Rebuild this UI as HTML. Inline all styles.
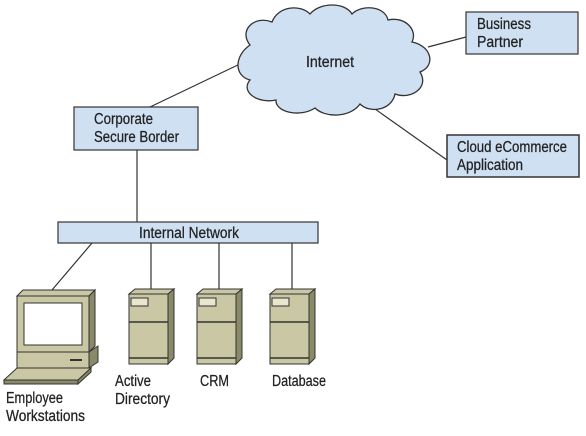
<!DOCTYPE html>
<html><head><style>
html,body{margin:0;padding:0;background:#fff;}
svg{display:block;}
text{font-family:"Liberation Sans",sans-serif;font-size:15.5px;fill:#222;stroke:#222;stroke-width:0.25px;}
</style></head><body>
<svg width="586" height="436" viewBox="0 0 586 436" xmlns="http://www.w3.org/2000/svg">
<g stroke="#333" stroke-width="1.2" fill="none">
<line x1="150" y1="107" x2="242" y2="63"/>
<line x1="428" y1="47" x2="466" y2="37"/>
<line x1="368" y1="104" x2="447" y2="160"/>
<line x1="137" y1="150" x2="137" y2="222"/>
<line x1="92" y1="243" x2="52" y2="290"/>
<line x1="151" y1="243" x2="151" y2="290"/>
<line x1="219" y1="243" x2="219" y2="290"/>
<line x1="292" y1="243" x2="292" y2="290"/>
</g>
<path d="M250,45 C238,30 255,15 272,22 C278,6 300,4 310,14 C320,2 345,2 352,14 C362,4 385,6 388,20 C405,16 418,30 412,42 C432,46 436,66 420,72 C430,88 410,100 395,94 C392,110 370,114 360,104 C350,118 325,118 315,108 C300,118 275,112 276,100 C258,104 240,92 250,80 C234,76 234,56 250,45 Z" fill="#cfe0f3" stroke="#333" stroke-width="1.3"/>
<text x="306" y="67" textLength="48" lengthAdjust="spacingAndGlyphs">Internet</text>
<rect x="466" y="12" width="112" height="42" fill="#cfe0f3" stroke="#333" stroke-width="1.2"/>
<text x="477" y="29" textLength="54" lengthAdjust="spacingAndGlyphs">Business</text><text x="477" y="47" textLength="46" lengthAdjust="spacingAndGlyphs">Partner</text>
<rect x="447" y="135" width="132" height="42" fill="#cfe0f3" stroke="#333" stroke-width="1.5"/>
<text x="457" y="152" textLength="110" lengthAdjust="spacingAndGlyphs">Cloud eCommerce</text><text x="457" y="170" textLength="66" lengthAdjust="spacingAndGlyphs">Application</text>
<rect x="74" y="107" width="124" height="43" fill="#cfe0f3" stroke="#333" stroke-width="1.2"/>
<text x="94" y="124" textLength="59" lengthAdjust="spacingAndGlyphs">Corporate</text><text x="94" y="142" textLength="85" lengthAdjust="spacingAndGlyphs">Secure Border</text>
<rect x="58" y="222" width="260" height="21" fill="#cfe0f3" stroke="#333" stroke-width="1.2"/>
<text x="139" y="238" textLength="100" lengthAdjust="spacingAndGlyphs">Internal Network</text>
<g stroke="#333" stroke-width="1" fill="#c9c7a4">
<polygon points="17,296 23,290 95,290 89,296"/>
<polygon points="89,296 95,290 95,346 89,352" fill="#8a8968"/>
<rect x="17" y="296" width="72" height="56"/>
<rect x="24" y="303" width="58" height="42" fill="#fff"/>
<polygon points="89,352 98,346 98,362 89,368" fill="#8a8968"/>
<rect x="17" y="352" width="72" height="16"/>
<line x1="70" y1="360" x2="82" y2="360" stroke-width="2"/>
<polygon points="4,380 17,368 91,368 78,380"/>
<polygon points="4,380 78,380 78,384 4,384" fill="#8a8968"/>
<polygon points="78,380 91,368 91,372 78,384" fill="#8a8968"/>
</g>
<g stroke="#333" stroke-width="1" fill="#c9c7a4">
<g id="s1">
<polygon points="129,294 135,289 174,289 168,294"/>
<polygon points="168,294 174,289 174,358 168,364" fill="#8a8968"/>
<rect x="129" y="294" width="39" height="70"/>
<line x1="129" y1="322" x2="168" y2="322" stroke-width="1.5"/>
<line x1="129" y1="358" x2="168" y2="358" stroke-width="1.5"/>
<rect x="131" y="298" width="17" height="8" fill="#e8e6cc"/>
</g>
<use href="#s1" x="68"/>
<use href="#s1" x="141"/>
</g>
<text x="115" y="386" textLength="36" lengthAdjust="spacingAndGlyphs">Active</text><text x="115" y="404" textLength="55" lengthAdjust="spacingAndGlyphs">Directory</text>
<text x="200" y="386" textLength="29" lengthAdjust="spacingAndGlyphs">CRM</text>
<text x="272" y="386" textLength="54" lengthAdjust="spacingAndGlyphs">Database</text>
<text x="6" y="403" textLength="57" lengthAdjust="spacingAndGlyphs">Employee</text><text x="6" y="421" textLength="79" lengthAdjust="spacingAndGlyphs">Workstations</text>
</svg>
</body></html>
